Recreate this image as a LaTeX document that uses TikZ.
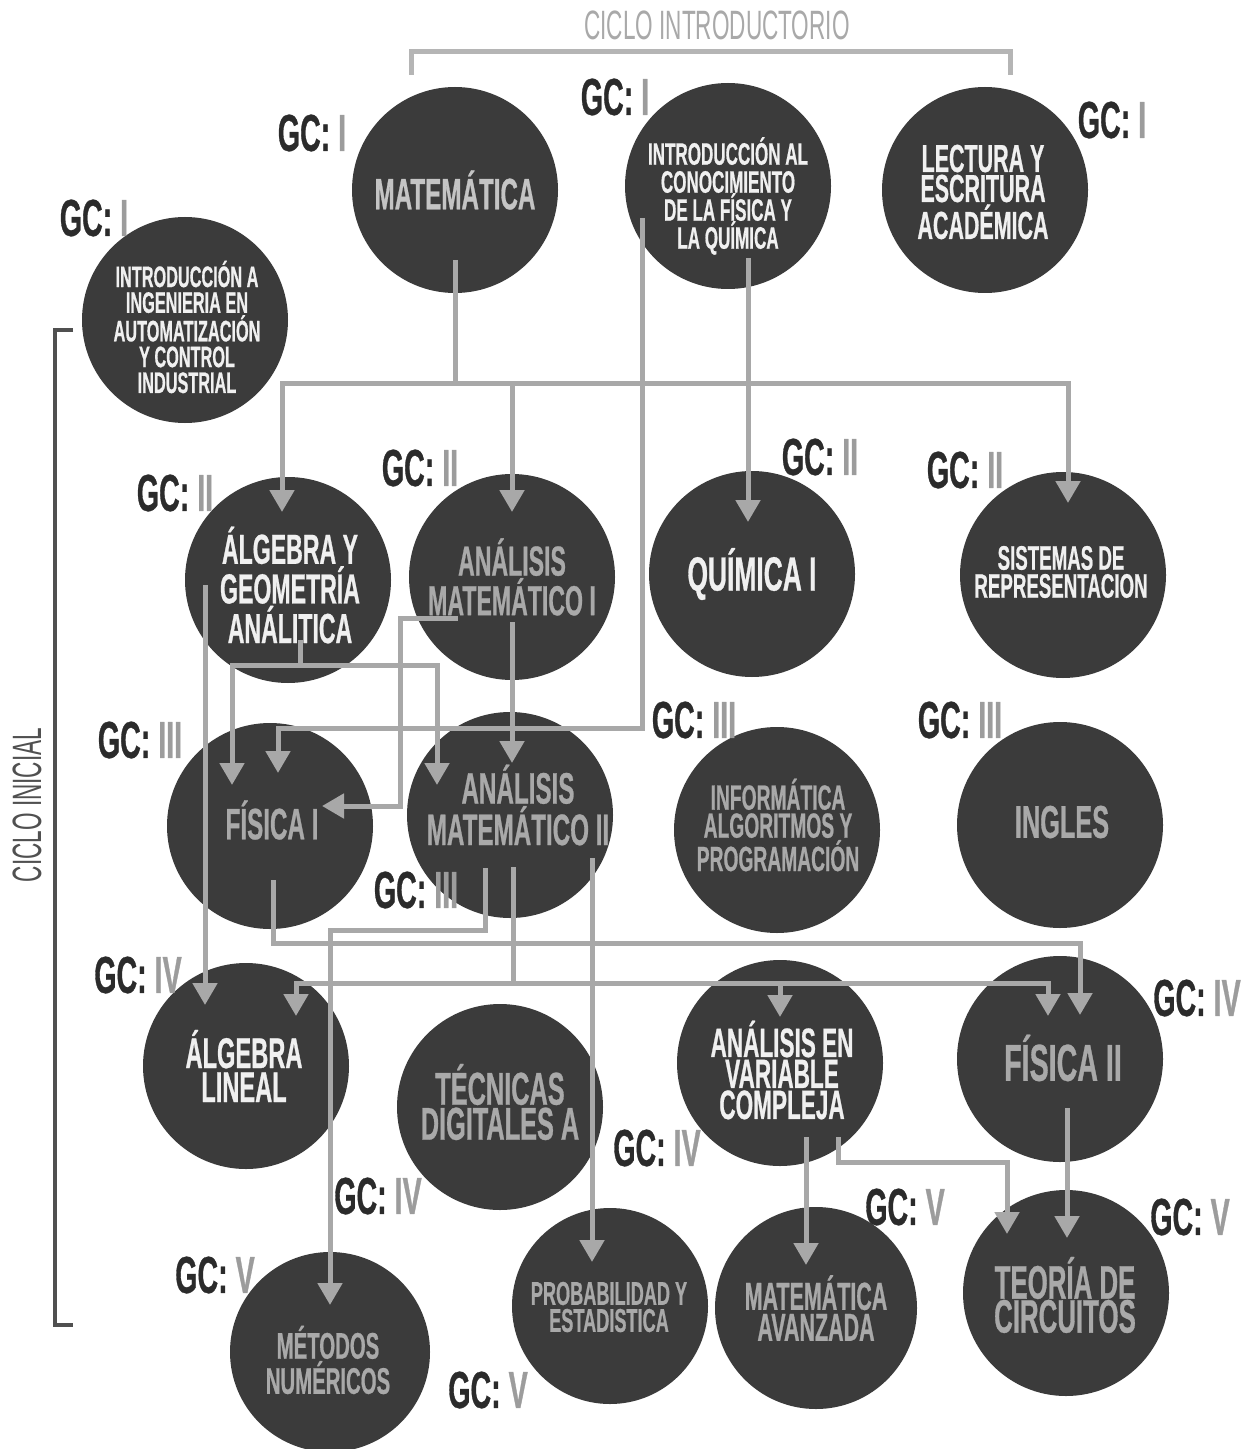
\documentclass[tikz,border=0pt]{standalone}
\usepackage{fontspec}
\setmainfont{Liberation Sans}[FakeStretch=0.55,BoldFeatures={FakeBold=0.6}]
\usetikzlibrary{arrows.meta,calc}
\definecolor{cfill}{HTML}{3B3B3B}
\definecolor{cline}{HTML}{A8A8A8}
\definecolor{ctw}{HTML}{F0F0F0}
\definecolor{ctg}{HTML}{A9A9A9}
\definecolor{ctl}{HTML}{C4C4C4}
\definecolor{gcdark}{HTML}{2B2B2B}
\definecolor{gcnum}{HTML}{9C9C9C}
\definecolor{brkt}{HTML}{B5B5B5}
\definecolor{brkl}{HTML}{505050}
\newcommand\fsz[2]{\fontsize{#1}{#2}\selectfont}
\begin{document}
\begin{tikzpicture}[x=0.5pt,y=-0.5pt,
 course/.style={circle,fill=cfill,minimum size=103pt,inner sep=0pt},
 ctext/.style={align=center,inner sep=0pt},
 wt/.style={ctext,text=ctw}, gt/.style={ctext,text=ctg}, lt/.style={ctext,text=ctl},
 gc/.style={font=\bfseries\fsz{26}{26}, text=gcdark, inner sep=0pt},
 conn/.style={draw=cline,line width=2.5pt},
 arr/.style={conn,-{Triangle[width=12pt,length=11pt]}},
]
\fill[white] (0,0) rectangle (1244,1449);
\useasboundingbox (0,0) rectangle (1244,1449);

% titles and brackets
\node[text=ctg,font=\fsz{20.5}{20}] (tintro) at (717,25) {CICLO INTRODUCTORIO};
\node[text=brkl,font=\fsz{20.5}{20},rotate=90] (tinic) at (27,805) {CICLO INICIAL};
\draw[draw=brkt,line width=2.5pt] (411,75) |- (1010,52) -- (1010,75);
\draw[draw=brkl,line width=2pt] (73,330) -| (55,1325) -- (73,1325);

% course circles
\node[course] (mat) at (455,190) {};
\node[course] (ifq) at (728,186) {};
\node[course] (lec) at (985,190) {};
\node[course] (iing) at (185,320) {};
\node[course] (ayg) at (288,580) {};
\node[course] (am1) at (512,577) {};
\node[course] (qui) at (752,574) {};
\node[course] (sis) at (1063,575) {};
\node[course] (fis1) at (270,826) {};
\node[course] (am2) at (510,815) {};
\node[course] (inf) at (777,830) {};
\node[course] (ing) at (1060,825) {};
\node[course] (al) at (246,1066) {};
\node[course] (tda) at (500,1107) {};
\node[course] (avc) at (780,1063) {};
\node[course] (fis2) at (1060,1059) {};
\node[course,minimum size=100pt] (met) at (330,1352) {};
\node[course,minimum size=98pt] (prob) at (610,1306) {};
\node[course,minimum size=101pt] (mav) at (816,1308) {};
\node[course] (teo) at (1066,1293) {};

% course texts
\node[lt,font=\bfseries\fsz{22}{22}] (matT) at ($(mat)+(0,0)$) {MATEMÁTICA};
\node[wt,font=\bfseries\fsz{15.5}{14}] (ifqT) at ($(ifq)+(0,10)$) {INTRODUCCIÓN AL\\CONOCIMIENTO\\DE LA FÍSICA Y\\LA QUÍMICA};
\node[wt,font=\bfseries\fsz{19.5}{15}] (lecT) at ($(lec)+(-2,2)$) {LECTURA Y\\ESCRITURA\\ACADÉMICA};
\node[wt,font=\bfseries\fsz{14.8}{12.9}] (iingT) at ($(iing)+(2,7)$) {INTRODUCCIÓN A\\INGENIERIA EN\\AUTOMATIZACIÓN\\Y CONTROL\\INDUSTRIAL};
\node[wt,font=\bfseries\fsz{21}{16.5}] (aygT) at ($(ayg)+(2,5)$) {ÁLGEBRA Y\\GEOMETRÍA\\ANÁLITICA};
\node[gt,font=\bfseries\fsz{21}{16.5}] (am1T) at ($(am1)+(0,0)$) {ANÁLISIS\\MATEMÁTICO I};
\node[wt,font=\bfseries\fsz{24}{24}] (quiT) at ($(qui)+(0,0)$) {QUÍMICA I};
\node[wt,font=\bfseries\fsz{17}{14}] (sisT) at ($(sis)+(-2,-3)$) {SISTEMAS DE\\REPRESENTACION};
\node[gt,font=\bfseries\fsz{22}{22}] (fis1T) at ($(fis1)+(2,-6)$) {FÍSICA I};
\node[gt,font=\bfseries\fsz{22}{16.5}] (am2T) at ($(am2)+(8,-10)$) {ANÁLISIS\\MATEMÁTICO II};
\node[gt,font=\bfseries\fsz{17.5}{14}] (infT) at ($(inf)+(1,-5)$) {INFORMÁTICA\\ALGORITMOS Y\\PROGRAMACIÓN};
\node[gt,font=\bfseries\fsz{23}{23}] (ingT) at ($(ing)+(2,-3)$) {INGLES};
\node[wt,font=\bfseries\fsz{21.5}{17}] (alT) at ($(al)+(-2,0)$) {ÁLGEBRA\\LINEAL};
\node[gt,font=\bfseries\fsz{23}{17.5}] (tdaT) at ($(tda)+(0,-5)$) {TÉCNICAS\\DIGITALES A};
\node[wt,font=\bfseries\fsz{20.5}{15.5}] (avcT) at ($(avc)+(2,7)$) {ANÁLISIS EN\\VARIABLE\\COMPLEJA};
\node[gt,font=\bfseries\fsz{26}{26}] (fis2T) at ($(fis2)+(3,-1)$) {FÍSICA II};
\node[gt,font=\bfseries\fsz{18.5}{15}] (metT) at ($(met)+(-2,8)$) {MÉTODOS\\NUMÉRICOS};
\node[gt,font=\bfseries\fsz{16.5}{13.5}] (probT) at ($(prob)+(-1,1)$) {PROBABILIDAD Y\\ESTADISTICA};
\node[gt,font=\bfseries\fsz{19.5}{15.5}] (mavT) at ($(mav)+(0,0)$) {MATEMÁTICA\\AVANZADA};
\node[gt,font=\bfseries\fsz{23.5}{17}] (teoT) at ($(teo)+(-1,2)$) {TEORÍA DE\\CIRCUITOS};

% GC labels
\node[gc] (g1) at (312,133) {GC: \textcolor{gcnum}{I}};
\node[gc] (g2) at (615,97) {GC: \textcolor{gcnum}{I}};
\node[gc] (g3) at (1112,120) {GC: \textcolor{gcnum}{I}};
\node[gc] (g4) at (94,218) {GC: \textcolor{gcnum}{I}};
\node[gc] (g5) at (175,493) {GC: \textcolor{gcnum}{II}};
\node[gc] (g6) at (420,468) {GC: \textcolor{gcnum}{II}};
\node[gc] (g7) at (820,457) {GC: \textcolor{gcnum}{II}};
\node[gc] (g8) at (965,470) {GC: \textcolor{gcnum}{II}};
\node[gc] (g9) at (140,740) {GC: \textcolor{gcnum}{III}};
\node[gc] (g10) at (694,720) {GC: \textcolor{gcnum}{III}};
\node[gc] (g11) at (960,720) {GC: \textcolor{gcnum}{III}};
\node[gc] (g12) at (416,890) {GC: \textcolor{gcnum}{III}};
\node[gc] (g13) at (138,975) {GC: \textcolor{gcnum}{IV}};
\node[gc] (g14) at (378,1196) {GC: \textcolor{gcnum}{IV}};
\node[gc] (g15) at (657,1148) {GC: \textcolor{gcnum}{IV}};
\node[gc] (g16) at (1197,998) {GC: \textcolor{gcnum}{IV}};
\node[gc] (g17) at (215,1275) {GC: \textcolor{gcnum}{V}};
\node[gc] (g18) at (488,1390) {GC: \textcolor{gcnum}{V}};
\node[gc] (g19) at (905,1207) {GC: \textcolor{gcnum}{V}};
\node[gc] (g20) at (1190,1217) {GC: \textcolor{gcnum}{V}};

% junction coordinates
\coordinate (j1) at (455,383);
\coordinate (k2) at (642,728);
\coordinate (j3) at (300,665);
\coordinate (k4) at (400,806);
\coordinate (k5) at (1080,943);
\coordinate (k6) at (330,930);
\coordinate (j6) at (513,983);
\coordinate (k7) at (1007,1162);

% connectors
\draw[conn] ($(mat)+(0,70)$) -- (j1);
\draw[arr] (j1) -| ($(ayg)+(-6,-68)$);
\draw[arr] (j1) -| ($(am1)+(0,-65)$);
\draw[arr] (j1) -| ($(sis)+(5,-72)$);

\draw[arr] ($(ifq)+(-86,32)$) -- (k2) -| ($(fis1)+(8,-53)$);
\draw[arr] ($(ifq)+(20,72)$) -- ($(qui)+(-4,-52)$);

\draw[arr] ($(ayg)+(-83,5)$) -- ($(al)+(-41,-61)$);
\draw[conn] ($(ayg)+(12,60)$) -- (j3);
\draw[arr] (j3) -| ($(fis1)+(-38,-41)$);
\draw[arr] (j3) -| ($(am2)+(-73,-30)$);

\draw[arr] ($(am1)+(-54,41)$) -| (k4) -- ($(fis1)+(52,-20)$);
\draw[arr] ($(am1)+(0,45)$) -- ($(am2)+(2,-52)$);

\draw[arr] ($(fis1)+(3,54)$) |- (k5) -- ($(fis2)+(20,-44)$);

\draw[arr] ($(am2)+(-25,53)$) |- (k6) -- ($(met)+(0,-47)$);
\draw[conn] ($(am2)+(3,52)$) -- (j6);
\draw[arr] (j6) -| ($(al)+(50,-50)$);
\draw[arr] (j6) -| ($(avc)+(0,-46)$);
\draw[arr] (j6) -| ($(fis2)+(-12,-43)$);
\draw[arr] ($(am2)+(82,43)$) -- ($(prob)+(-18,-44)$);

\draw[arr] ($(avc)+(26,74)$) -- ($(mav)+(-10,-43)$);
\draw[arr] ($(avc)+(58,74)$) |- (k7) -- ($(teo)+(-59,-59)$);
\draw[arr] ($(fis2)+(7,49)$) -- ($(teo)+(1,-55)$);
\end{tikzpicture}
\end{document}
